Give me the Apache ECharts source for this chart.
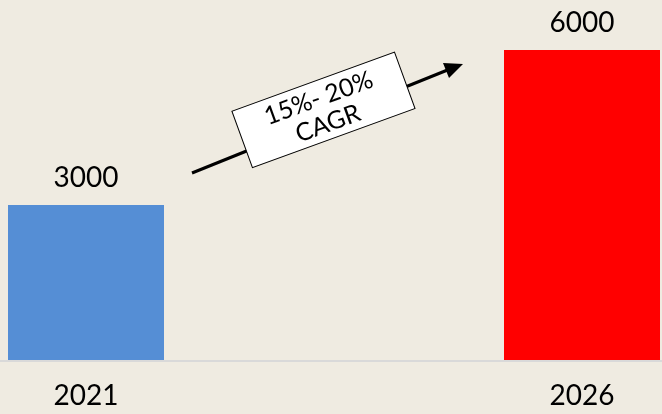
<!DOCTYPE html>
<html>
<head>
<meta charset="utf-8">
<script src="https://cdn.jsdelivr.net/npm/echarts@6/dist/echarts.min.js"></script>
<style>
  html, body { margin: 0; padding: 0; background: #EFEBE1; }
  #chart { width: 662px; height: 414px; }
</style>
</head>
<body>
<div id="chart"></div>
<script>
const years = ['2021', '2026']
const values = [3000, 6000]
const barColors = ['#558ED5', '#FF0000']
const growthLabel = '15%- 20%\nCAGR'

const chart = echarts.init(document.getElementById('chart'))

const deg = Math.PI / 180

const option = {
  backgroundColor: '#EFEBE1',
  animation: false,
  textStyle: { fontFamily: 'Lato' },
  grid: {
    left: 86,
    right: 80,
    top: 50,
    bottom: 54
  },
  xAxis: {
    type: 'category',
    data: years,
    boundaryGap: false,
    axisTick: { show: false },
    axisLine: { show: false },
    axisLabel: {
      color: '#000',
      fontSize: 28,
      margin: 22
    }
  },
  yAxis: {
    type: 'value',
    min: 0,
    max: 6000,
    show: false,
    splitLine: { show: false }
  },
  series: [
    {
      type: 'bar',
      barWidth: 156,
      clip: false,
      data: values.map((v, i) => ({
        value: v,
        itemStyle: { color: barColors[i] }
      })),
      label: {
        show: true,
        position: 'top',
        distance: 13,
        color: '#000',
        fontSize: 28
      }
    }
  ]
}

chart.setOption(option)

// full-width baseline at value 0, arrow and rotated CAGR box
const baseY = chart.convertToPixel({ yAxisIndex: 0 }, 0)

chart.setOption({
  graphic: [
    {
      type: 'line',
      z: 1,
      shape: { x1: 0, y1: baseY + 1, x2: 662, y2: baseY + 1 },
      style: { stroke: '#D9D9D9', lineWidth: 2 }
    },
    {
      type: 'line',
      z: 10,
      shape: { x1: 192, y1: 173, x2: 450, y2: 69 },
      style: { stroke: '#000', lineWidth: 3 }
    },
    {
      type: 'polygon',
      z: 10,
      shape: { points: [[463, 64], [449, 78], [443, 63]] },
      style: { fill: '#000' }
    },
    {
      type: 'group',
      x: 323,
      y: 110,
      rotation: 20 * deg,
      children: [
        {
          type: 'rect',
          z: 20,
          shape: { x: -86, y: -30, width: 173, height: 60 },
          style: { fill: '#fff', stroke: '#000', lineWidth: 1 }
        },
        {
          type: 'text',
          z: 21,
          style: {
            text: growthLabel,
            x: 0,
            y: 1,
            align: 'center',
            verticalAlign: 'middle',
            fontFamily: 'Lato',
            fontSize: 25,
            lineHeight: 27,
            fill: '#000'
          }
        }
      ]
    }
  ]
})
</script>
</body>
</html>
